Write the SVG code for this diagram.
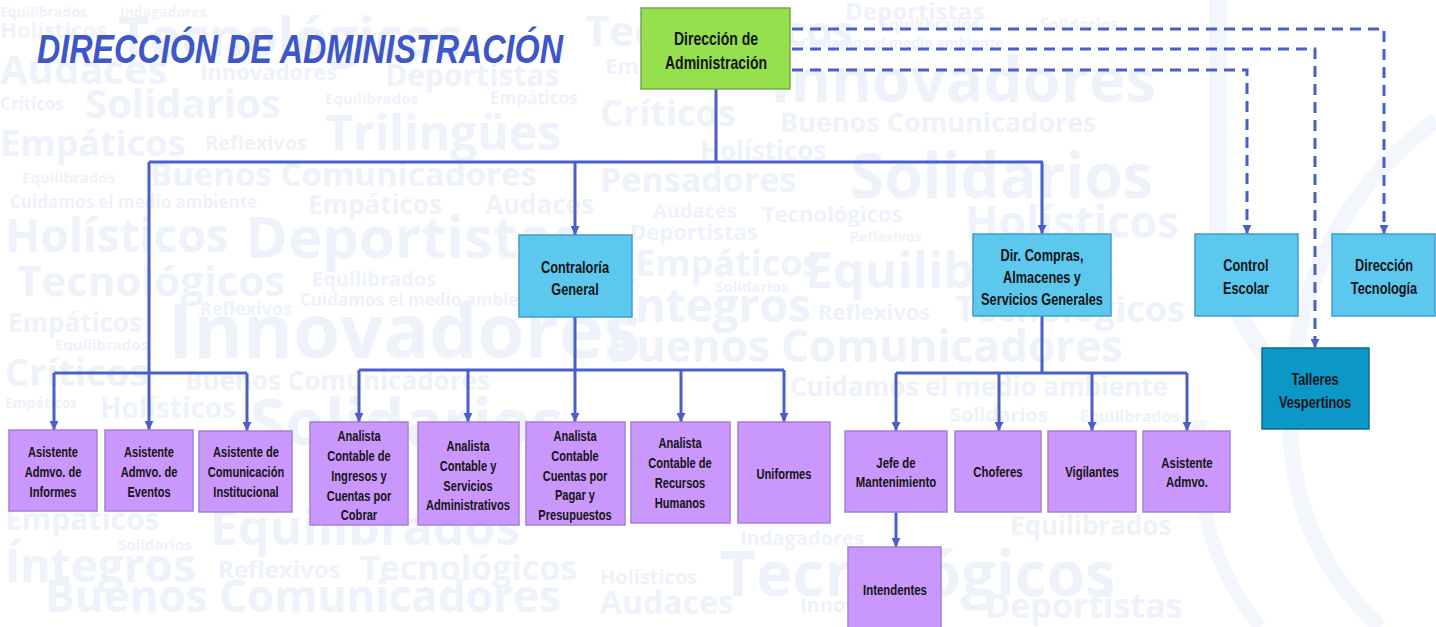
<svg xmlns="http://www.w3.org/2000/svg" width="1436" height="627" viewBox="0 0 1436 627">
<defs>
<style>
.wm{font-family:"Open Sans","Liberation Sans",sans-serif;font-weight:bold;fill:#eef2fa}
.t{font-family:"Liberation Sans",Arial,sans-serif;font-weight:bold;fill:#141414;text-anchor:middle}
.s15{font-size:15px}
.s17{font-size:17px}
.s18{font-size:18px}
.p{fill:#ca98fc;stroke:#a47fd8;stroke-width:1.5}
.b{fill:#5cc8ee;stroke:#3f9fca;stroke-width:1.5}
.d{fill:#0b98c9;stroke:#0a6d93;stroke-width:1.5}
.g{fill:#96e04d;stroke:#7aa852;stroke-width:1.5}
.c{fill:none;stroke:#4b5fcb;stroke-width:3}
.dash{fill:none;stroke:#4b5fcb;stroke-width:3;stroke-dasharray:11 7}
.title{font-family:"Liberation Sans",Arial,sans-serif;font-weight:bold;font-style:italic;font-size:41px;fill:#3d57c8}
</style>
<marker id="ah" viewBox="0 0 10 10" refX="10" refY="5" markerWidth="9" markerHeight="9" markerUnits="userSpaceOnUse" orient="auto">
<path d="M0,0 L10,5 L0,10 z" fill="#4b5fcb"/>
</marker>
</defs>
<rect width="1436" height="627" fill="#ffffff"/>
<g id="watermark">
<path d="M1218 0 V230 Q1220 320 1300 390" fill="none" stroke="#f3f6fc" stroke-width="18"/>
<path d="M1436 120 Q1300 220 1290 400 Q1285 540 1380 627" fill="none" stroke="#f3f6fc" stroke-width="16"/>
<path d="M1200 420 Q1190 540 1260 627" fill="none" stroke="#f3f6fc" stroke-width="14"/>
<text class="wm" x="0" y="17" font-size="14">Equilibrados</text>
<text class="wm" x="120" y="17" font-size="14">Indagadores</text>
<text class="wm" x="118" y="56" font-size="54">Tecnológicos</text>
<text class="wm" x="585" y="46" font-size="42">Tecnológicos</text>
<text class="wm" x="0" y="38" font-size="22">Holísticos</text>
<text class="wm" x="0" y="84" font-size="40">Audaces</text>
<text class="wm" x="200" y="80" font-size="22">Innovadores</text>
<text class="wm" x="385" y="86" font-size="30">Deportistas</text>
<text class="wm" x="605" y="74" font-size="22">Empáticos</text>
<text class="wm" x="0" y="110" font-size="17">Críticos</text>
<text class="wm" x="85" y="118" font-size="40">Solidarios</text>
<text class="wm" x="325" y="104" font-size="15">Equilibrados</text>
<text class="wm" x="490" y="104" font-size="17">Empáticos</text>
<text class="wm" x="600" y="126" font-size="36">Críticos</text>
<text class="wm" x="0" y="156" font-size="36">Empáticos</text>
<text class="wm" x="205" y="150" font-size="20">Reflexivos</text>
<text class="wm" x="325" y="150" font-size="48">Trilingües</text>
<text class="wm" x="22" y="183" font-size="15">Equilibrados</text>
<text class="wm" x="150" y="186" font-size="33">Buenos Comunicadores</text>
<text class="wm" x="10" y="208" font-size="17">Cuidamos el medio ambiente</text>
<text class="wm" x="308" y="214" font-size="26">Empáticos</text>
<text class="wm" x="485" y="214" font-size="26">Audaces</text>
<text class="wm" x="5" y="252" font-size="46">Holísticos</text>
<text class="wm" x="245" y="258" font-size="58">Deportistas</text>
<text class="wm" x="17" y="296" font-size="42">Tecnológicos</text>
<text class="wm" x="312" y="286" font-size="20">Equilibrados</text>
<text class="wm" x="200" y="315" font-size="18">Reflexivos</text>
<text class="wm" x="300" y="306" font-size="17">Cuidamos el medio ambiente</text>
<text class="wm" x="8" y="332" font-size="26">Empáticos</text>
<text class="wm" x="55" y="350" font-size="15">Equilibrados</text>
<text class="wm" x="168" y="358" font-size="76">Innovadores</text>
<text class="wm" x="5" y="386" font-size="38">Críticos</text>
<text class="wm" x="185" y="390" font-size="26">Buenos Comunicadores</text>
<text class="wm" x="5" y="408" font-size="14">Empáticos</text>
<text class="wm" x="100" y="418" font-size="28">Holísticos</text>
<text class="wm" x="250" y="445" font-size="64">Solidarios</text>
<text class="wm" x="5" y="530" font-size="30">Empáticos</text>
<text class="wm" x="210" y="545" font-size="50">Equilibrados</text>
<text class="wm" x="118" y="550" font-size="15">Solidarios</text>
<text class="wm" x="5" y="582" font-size="46">Íntegros</text>
<text class="wm" x="218" y="578" font-size="24">Reflexivos</text>
<text class="wm" x="360" y="580" font-size="34">Tecnológicos</text>
<text class="wm" x="600" y="584" font-size="20">Holísticos</text>
<text class="wm" x="720" y="596" font-size="62">Tecnológicos</text>
<text class="wm" x="45" y="612" font-size="44">Buenos Comunicadores</text>
<text class="wm" x="600" y="614" font-size="32">Audaces</text>
<text class="wm" x="800" y="612" font-size="20">Innovadores</text>
<text class="wm" x="985" y="618" font-size="34">Deportistas</text>
<text class="wm" x="845" y="20" font-size="24">Deportistas</text>
<text class="wm" x="880" y="30" font-size="16">Equilibrados</text>
<text class="wm" x="1040" y="30" font-size="16">Solidarios</text>
<text class="wm" x="800" y="48" font-size="14">Cuidamos el medio ambiente</text>
<text class="wm" x="770" y="102" font-size="62">Innovadores</text>
<text class="wm" x="780" y="132" font-size="27">Buenos Comunicadores</text>
<text class="wm" x="700" y="160" font-size="26">Holísticos</text>
<text class="wm" x="600" y="192" font-size="34">Pensadores</text>
<text class="wm" x="850" y="198" font-size="62">Solidarios</text>
<text class="wm" x="653" y="218" font-size="20">Audaces</text>
<text class="wm" x="762" y="222" font-size="22">Tecnológicos</text>
<text class="wm" x="965" y="238" font-size="44">Holísticos</text>
<text class="wm" x="630" y="240" font-size="22">Deportistas</text>
<text class="wm" x="850" y="242" font-size="14">Reflexivos</text>
<text class="wm" x="635" y="276" font-size="36">Empáticos</text>
<text class="wm" x="805" y="288" font-size="50">Equilibrados</text>
<text class="wm" x="715" y="292" font-size="15">Solidarios</text>
<text class="wm" x="620" y="322" font-size="46">Íntegros</text>
<text class="wm" x="818" y="320" font-size="22">Reflexivos</text>
<text class="wm" x="955" y="322" font-size="36">Tecnológicos</text>
<text class="wm" x="607" y="362" font-size="44">Buenos Comunicadores</text>
<text class="wm" x="790" y="396" font-size="26">Cuidamos el medio ambiente</text>
<text class="wm" x="950" y="422" font-size="20">Solidarios</text>
<text class="wm" x="1080" y="422" font-size="16">Equilibrados</text>
<text class="wm" x="740" y="545" font-size="20">Indagadores</text>
<text class="wm" x="1010" y="535" font-size="26">Equilibrados</text>
</g>
<text class="title" x="37" y="63" textLength="526" lengthAdjust="spacingAndGlyphs">DIRECCIÓN DE ADMINISTRACIÓN</text>
<g id="connectors">
<path class="c" d="M716 89 V162 M149 162 H1043"/>
<path class="c" d="M149 162 V373 M54 373 H247"/>
<path class="c" d="M54 373 V430" marker-end="url(#ah)"/>
<path class="c" d="M149 373 V430" marker-end="url(#ah)"/>
<path class="c" d="M247 373 V431" marker-end="url(#ah)"/>
<path class="c" d="M575 162 V235" marker-end="url(#ah)"/>
<path class="c" d="M575 317 V370 M359 370 H784"/>
<path class="c" d="M359 370 V422" marker-end="url(#ah)"/>
<path class="c" d="M468 370 V422" marker-end="url(#ah)"/>
<path class="c" d="M575 370 V422" marker-end="url(#ah)"/>
<path class="c" d="M681 370 V422" marker-end="url(#ah)"/>
<path class="c" d="M784 370 V422" marker-end="url(#ah)"/>
<path class="c" d="M1042 162 V234" marker-end="url(#ah)"/>
<path class="c" d="M1042 316 V373 M896 373 H1187"/>
<path class="c" d="M896 373 V431" marker-end="url(#ah)"/>
<path class="c" d="M999 373 V431" marker-end="url(#ah)"/>
<path class="c" d="M1092 373 V431" marker-end="url(#ah)"/>
<path class="c" d="M1187 373 V431" marker-end="url(#ah)"/>
<path class="c" d="M896 512 V547" marker-end="url(#ah)"/>
<path class="dash" d="M792 29 H1384 V234" marker-end="url(#ah)"/>
<path class="dash" d="M792 49 H1315 V348" marker-end="url(#ah)"/>
<path class="dash" d="M792 70 H1247 V234" marker-end="url(#ah)"/>
</g>
<g id="n-dir-admin">
<rect class="g" x="641" y="8" width="149" height="81"/>
<g transform="translate(716 0) scale(0.78 1)"><text class="t s18" x="0" y="45">Dirección de</text><text class="t s18" x="0" y="69">Administración</text></g>
</g>
<g id="n-contraloria">
<rect class="b" x="519" y="235" width="113" height="82"/>
<g transform="translate(575 0) scale(0.75 1)"><text class="t s17" x="0" y="273">Contraloría</text><text class="t s17" x="0" y="295">General</text></g>
</g>
<g id="n-compras">
<rect class="b" x="973" y="234" width="138" height="82"/>
<g transform="translate(1042 0) scale(0.75 1)"><text class="t s17" x="0" y="261">Dir. Compras,</text><text class="t s17" x="0" y="283">Almacenes y</text><text class="t s17" x="0" y="305">Servicios Generales</text></g>
</g>
<g id="n-control">
<rect class="b" x="1195" y="234" width="103" height="82"/>
<g transform="translate(1246 0) scale(0.75 1)"><text class="t s17" x="0" y="271">Control</text><text class="t s17" x="0" y="294">Escolar</text></g>
</g>
<g id="n-tecnologia">
<rect class="b" x="1332" y="234" width="103" height="82"/>
<g transform="translate(1384 0) scale(0.75 1)"><text class="t s17" x="0" y="271">Dirección</text><text class="t s17" x="0" y="294">Tecnología</text></g>
</g>
<g id="n-talleres">
<rect class="d" x="1262" y="348" width="107" height="81"/>
<g transform="translate(1315 0) scale(0.75 1)"><text class="t s17" x="0" y="385">Talleres</text><text class="t s17" x="0" y="408">Vespertinos</text></g>
</g>
<g id="n-asist-informes">
<rect class="p" x="9" y="430" width="88" height="81"/>
<g transform="translate(53 0) scale(0.74 1)"><text class="t s15" x="0" y="457">Asistente</text><text class="t s15" x="0" y="477">Admvo. de</text><text class="t s15" x="0" y="497">Informes</text></g>
</g>
<g id="n-asist-eventos">
<rect class="p" x="105" y="430" width="88" height="81"/>
<g transform="translate(149 0) scale(0.74 1)"><text class="t s15" x="0" y="457">Asistente</text><text class="t s15" x="0" y="477">Admvo. de</text><text class="t s15" x="0" y="497">Eventos</text></g>
</g>
<g id="n-asist-comunicacion">
<rect class="p" x="199" y="431" width="93" height="81"/>
<g transform="translate(246 0) scale(0.74 1)"><text class="t s15" x="0" y="457">Asistente de</text><text class="t s15" x="0" y="477">Comunicación</text><text class="t s15" x="0" y="497">Institucional</text></g>
</g>
<g id="n-analista-ingresos">
<rect class="p" x="310" y="422" width="98" height="103"/>
<g transform="translate(359 0) scale(0.74 1)"><text class="t s15" x="0" y="441">Analista</text><text class="t s15" x="0" y="461">Contable de</text><text class="t s15" x="0" y="481">Ingresos y</text><text class="t s15" x="0" y="501">Cuentas por</text><text class="t s15" x="0" y="520">Cobrar</text></g>
</g>
<g id="n-analista-servicios">
<rect class="p" x="418" y="422" width="101" height="103"/>
<g transform="translate(468 0) scale(0.74 1)"><text class="t s15" x="0" y="451">Analista</text><text class="t s15" x="0" y="471">Contable y</text><text class="t s15" x="0" y="491">Servicios</text><text class="t s15" x="0" y="510">Administrativos</text></g>
</g>
<g id="n-analista-cuentas">
<rect class="p" x="526" y="422" width="99" height="103"/>
<g transform="translate(575 0) scale(0.74 1)"><text class="t s15" x="0" y="441">Analista</text><text class="t s15" x="0" y="461">Contable</text><text class="t s15" x="0" y="481">Cuentas por</text><text class="t s15" x="0" y="500">Pagar y</text><text class="t s15" x="0" y="520">Presupuestos</text></g>
</g>
<g id="n-analista-rh">
<rect class="p" x="631" y="422" width="99" height="101"/>
<g transform="translate(680 0) scale(0.74 1)"><text class="t s15" x="0" y="448">Analista</text><text class="t s15" x="0" y="468">Contable de</text><text class="t s15" x="0" y="488">Recursos</text><text class="t s15" x="0" y="508">Humanos</text></g>
</g>
<g id="n-uniformes">
<rect class="p" x="738" y="422" width="92" height="101"/>
<g transform="translate(784 0) scale(0.74 1)"><text class="t s15" x="0" y="479">Uniformes</text></g>
</g>
<g id="n-jefe-mant">
<rect class="p" x="845" y="431" width="102" height="81"/>
<g transform="translate(896 0) scale(0.76 1)"><text class="t s15" x="0" y="468">Jefe de</text><text class="t s15" x="0" y="487">Mantenimiento</text></g>
</g>
<g id="n-choferes">
<rect class="p" x="955" y="431" width="86" height="81"/>
<g transform="translate(998 0) scale(0.76 1)"><text class="t s15" x="0" y="477">Choferes</text></g>
</g>
<g id="n-vigilantes">
<rect class="p" x="1048" y="431" width="88" height="81"/>
<g transform="translate(1092 0) scale(0.76 1)"><text class="t s15" x="0" y="477">Vigilantes</text></g>
</g>
<g id="n-asist-admvo">
<rect class="p" x="1143" y="431" width="87" height="81"/>
<g transform="translate(1187 0) scale(0.76 1)"><text class="t s15" x="0" y="468">Asistente</text><text class="t s15" x="0" y="487">Admvo.</text></g>
</g>
<g id="n-intendentes">
<rect class="p" x="848" y="547" width="93" height="90"/>
<g transform="translate(895 0) scale(0.76 1)"><text class="t s15" x="0" y="595">Intendentes</text></g>
</g>
</svg>
